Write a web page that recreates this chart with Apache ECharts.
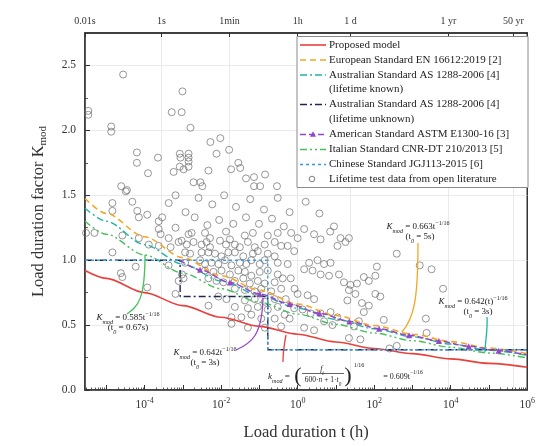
<!DOCTYPE html>
<html><head><meta charset="utf-8">
<script src="https://cdn.jsdelivr.net/npm/echarts@6/dist/echarts.min.js"></script>
<style>html,body{margin:0;padding:0;background:#fff}#c{width:538px;height:446px}</style>
</head><body><div id="c"></div>
<script>
const FONT = '"Liberation Serif","Times New Roman",serif';
// x values are log10 of load duration t (h)
const xMin = -5.5563, xMax = 6;
const curveLogT = [-5.5563, -5, -4, -3, -2, -1, 0, 1, 2, 3, 4, 5, 6];
const proposedK = [0.92, 0.86, 0.75, 0.65, 0.56, 0.49, 0.43, 0.37, 0.32, 0.28, 0.24, 0.205, 0.175];
const europeanK = [1.475, 1.36, 1.18, 1.02, 0.88, 0.77, 0.663, 0.574, 0.497, 0.43, 0.373, 0.323, 0.28];
const ausKnownK = [1.40, 1.30, 1.12, 0.97, 0.84, 0.73, 0.63, 0.545, 0.472, 0.41, 0.354, 0.307, 0.266];
const italianK = [1.30, 1.20, 1.04, 0.90, 0.78, 0.676, 0.585, 0.506, 0.439, 0.38, 0.329, 0.285, 0.247];
const astmLogT = [-3.08, -2.55, -1.77, -0.99, -0.21, 0.57, 1.35, 2.13, 2.91, 3.69, 4.47, 5.25, 6];
const astmK = [1.0, 0.926, 0.828, 0.74, 0.662, 0.591, 0.528, 0.472, 0.422, 0.377, 0.337, 0.302, 0.271];
const ausUnknownLogT = [-5.5563, -3.07, -3.07, -0.78, -0.78, 6];
const ausUnknownK = [1.0, 1.0, 0.72, 0.72, 0.31, 0.31];
const chineseLogT = [-5.5563, -0.78, -0.78, 6];
const chineseK = [1.0, 1.0, 0.31, 0.31];
// lifetime test data: [log10 t(h), K]
const testPoints = [
[-4.56,2.43],[-3.01,2.30],[-5.47,2.15],[-5.47,2.12],[-3.29,2.14],[-3.03,2.14],[-4.87,2.03],[-4.87,1.99],[-2.80,2.02],[-2.28,1.91],
[-2.02,1.94],[-1.79,1.85],[-2.12,1.82],[-4.20,1.83],[-4.20,1.75],[-3.65,1.79],[-3.08,1.82],[-2.85,1.82],[-3.06,1.79],[-2.85,1.79],
[-2.85,1.76],[-2.85,1.72],[-3.08,1.72],[-2.98,1.70],[-3.24,1.68],[-3.91,1.67],[-2.33,1.69],[-1.74,1.70],[-1.55,1.75],[-1.50,1.71],
[-1.35,1.63],[-1.14,1.64],[-0.85,1.66],[-2.72,1.60],[-2.54,1.60],[-2.49,1.57],[-4.61,1.57],[-4.46,1.54],[-1.14,1.57],[-0.98,1.57],[-0.54,1.57],
[-4.49,1.53],[-4.32,1.45],[-4.84,1.44],[-3.37,1.44],[-3.19,1.50],[-4.84,1.38],[-4.19,1.38],[-4.15,1.33],[-3.93,1.35],[-3.63,1.30],
[-3.54,1.33],[-3.19,1.25],[-3.63,1.24],[-4.58,1.19],[-4.15,1.17],[-5.53,1.21],[-3.58,1.20],[-3.37,1.17],[-3.89,1.12],[-3.63,1.11],
[-3.11,1.14],[-4.84,1.06],[-3.37,0.96],[-4.58,0.87],[-3.02,0.89],[-3.11,0.84],[-2.98,0.86],
[-5.31,1.21],[-4.62,0.90],[-3.93,0.79],[-4.23,0.95],[-1.73,0.51],[-2.33,0.65],
[-2.85,1.20],[-2.77,1.21],[-2.42,1.21],[-2.29,1.17],[-1.87,1.22],[-1.38,1.19],[-1.17,1.21],[-0.78,1.19],[-0.52,1.21],
[-3.03,1.15],[-2.90,1.12],[-2.72,1.14],[-2.51,1.12],[-2.38,1.14],[-2.29,1.10],[-2.03,1.15],[-1.87,1.12],[-1.77,1.16],[-1.64,1.12],
[-1.51,1.10],[-1.30,1.14],[-1.12,1.10],[-0.86,1.12],[-0.60,1.14],[-0.43,1.11],
[-2.94,1.06],[-2.81,1.05],[-2.51,1.06],[-2.33,1.06],[-2.16,1.05],[-1.99,1.03],[-1.81,1.06],[-1.64,1.06],[-1.42,1.03],[-1.17,1.05],
[-1.04,1.07],[-0.78,1.05],[-0.60,1.03],
[-2.94,0.98],[-2.55,1.00],[-2.42,0.97],[-2.25,0.98],[-2.07,0.97],[-1.90,1.00],[-1.73,0.96],[-1.51,0.98],[-1.34,0.97],[-1.21,1.00],
[-0.99,0.97],[-0.86,1.00],[-0.52,0.98],
[-2.42,0.92],[-2.20,0.91],[-1.99,0.92],[-1.77,0.89],[-1.55,0.92],[-1.38,0.91],[-1.21,0.88],[-0.99,0.91],[-0.78,0.92],[-0.52,0.89],
[-2.33,0.86],[-2.12,0.84],[-1.94,0.83],[-1.64,0.84],[-1.42,0.86],[-1.25,0.82],[-1.04,0.84],[-0.86,0.82],[-0.60,0.83],[-0.39,0.86],
[-1.64,0.78],[-1.38,0.77],[-1.12,0.76],[-0.95,0.78],[-0.69,0.76],[-0.43,0.78],
[-2.07,0.72],[-1.86,0.70],[-1.38,0.69],[-1.12,0.70],[-0.86,0.68],[-0.60,0.70],
[-1.64,0.64],[-1.30,0.63],[-1.04,0.64],[-0.78,0.62],[-0.52,0.64],
[-1.73,0.56],[-1.47,0.56],[-1.21,0.58],[-0.95,0.55],[-0.60,0.55],[-0.34,0.58],
[-3.19,0.74],[-3.32,1.10],[-1.30,0.48],[-0.86,0.48],[-0.43,0.49],
[0.95,1.26],[1.12,1.17],[1.25,1.14],[1.04,1.11],[1.34,1.17],[-0.17,1.21],[0.00,1.17],[0.17,1.24],[0.43,1.20],[0.60,1.16],
[-0.26,1.11],[-0.09,1.07],[0.30,0.98],[0.52,1.00],[0.69,0.97],[0.86,0.98],[0.17,0.93],[0.39,0.92],[0.60,0.89],[0.82,0.88],
[1.08,0.89],[1.21,0.83],[1.38,0.81],[1.55,0.82],[1.34,0.77],[1.51,0.74],[1.73,0.87],[1.86,0.84],[2.03,0.88],[2.07,0.95],
[1.68,0.67],[1.86,0.65],[2.25,0.54],[3.19,0.96],[3.50,0.93],[2.59,1.05],[3.80,0.78],[3.35,0.55],
[0.00,0.74],[0.26,0.73],[0.43,0.70],[-0.09,0.63],[0.13,0.62],[0.34,0.59],[0.60,0.59],[0.86,0.60],[1.04,0.56],[0.69,0.53],
[0.91,0.50],[0.17,0.48],[0.43,0.46],[1.47,0.49],[1.60,0.53],[1.30,0.69],[1.73,0.60],[2.03,0.74],[1.34,0.40],[1.64,0.39],
[2.16,0.72],[3.37,0.44],[2.40,0.32],[2.59,0.34],
[-0.26,0.97],[-0.18,0.86],[-0.08,0.78],[-0.31,0.70],[-0.21,0.55],
[-2.59,1.48],[-2.23,1.43],[-1.92,1.50],[-1.61,1.41],[-1.24,1.47],[-0.88,1.39],[-0.52,1.48],[-0.21,1.37],[0.21,1.45],[0.57,1.36],
[-2.69,1.33],[-2.36,1.27],[-2.05,1.31],[-1.68,1.28],[-1.35,1.33],[-1.01,1.28],[-0.67,1.32],[-0.36,1.26],[0.85,1.22],[-2.93,1.37]
];
const bottomLabelExp = [-4, -2, 0, 2, 4, 6];
const topTickHours = [2.778e-6, 2.778e-4, 0.016667, 1, 24, 8760, 438000];
const topTickLabels = ['0.01s', '1s', '1min', '1h', '1 d', '1 yr', '50 yr'];
const yLabels = [0, 0.5, 1.0, 1.5, 2.0, 2.5];
const yMinor = [0.25, 0.75, 1.25, 1.75, 2.25];

const C = {
  red: '#e8413c', orange: '#f5a623', teal: '#22b3a3', navy: '#1d2555',
  purple: '#9646c8', green: '#46c05a', blue: '#3d9be0', gray: '#6e6e6e', text: '#333'
};

const zip = (xs, ys) => xs.map((x, i) => [x, ys[i]]);
const majorTicks = [];
for (let d = -5; d <= 6; d++) majorTicks.push(d);
const minorTicks = [];
for (let d = -6; d <= 5; d++) for (let m = 2; m <= 9; m++) {
  const v = d + Math.log10(m);
  if (v > xMin && v < xMax) minorTicks.push(v);
}
const topTickPos = topTickHours.map(h => Math.max(xMin, Math.log10(h)));

function lineSeries(name, data, color, dash, width) {
  return {
    name, type: 'line', data, xAxisIndex: 0, yAxisIndex: 0, showSymbol: false, symbol: 'none',
    smooth: 0.3, smoothMonotone: 'x', clip: true, z: 3,
    lineStyle: { color, width: width || 1.5, type: dash },
    emphasis: { disabled: true }
  };
}

const series = [
  {
    name: 'Lifetime test data', type: 'scatter', data: testPoints, symbol: 'circle', symbolSize: 7,
    xAxisIndex: 0, yAxisIndex: 0, z: 2,
    itemStyle: { color: 'rgba(255,255,255,0)', borderColor: C.gray, borderWidth: 0.9 },
    emphasis: { disabled: true }
  },
  lineSeries('Proposed model', zip(curveLogT, proposedK), C.red, 'solid', 1.6),
  lineSeries('European', zip(curveLogT, europeanK), C.orange, [6, 4], 1.6),
  lineSeries('Aus known', zip(curveLogT, ausKnownK), C.teal, [7, 3, 2, 3], 1.4),
  Object.assign(lineSeries('Aus unknown', zip(ausUnknownLogT, ausUnknownK), C.navy, [7, 3, 2, 3], 1.4), { smooth: false }),
  lineSeries('Italian', zip(curveLogT, italianK), C.green, [7, 3, 2, 3, 2, 3], 1.4),
  Object.assign(lineSeries('Chinese', zip(chineseLogT, chineseK), C.blue, [3, 3], 1.4), { smooth: false }),
  {
    name: 'ASTM', type: 'line', xAxisIndex: 0, yAxisIndex: 0, z: 4, smooth: 0.3, smoothMonotone: 'x',
    data: zip(astmLogT, astmK).map((p, i, a) => (i === 0 || i === a.length - 1) ? { value: p, symbol: 'none' } : { value: p }),
    symbol: 'triangle', symbolSize: 6, showSymbol: true,
    itemStyle: { color: C.purple },
    lineStyle: { color: C.purple, width: 1.5, type: [6, 3] },
    emphasis: { disabled: true }
  }
];

// annotation helpers
const annRich = (fs) => ({
  n: { fontSize: fs, fontFamily: FONT, fill: '#222', lineHeight: 14, verticalAlign: 'middle' },
  i: { fontSize: fs, fontFamily: FONT, fontStyle: 'italic', fill: '#222', lineHeight: 14, verticalAlign: 'middle' },
  sub: { fontSize: fs * 0.68, fontFamily: FONT, fontStyle: 'italic', fill: '#222', lineHeight: 10, verticalAlign: 'bottom' },
  sup: { fontSize: fs * 0.68, fontFamily: FONT, fill: '#222', lineHeight: 9, verticalAlign: 'top' }
});
function annText(x, y, text, fs) {
  return { type: 'text', x, y, z: 20, silent: true,
    style: { text, align: 'center', verticalAlign: 'middle', rich: annRich(fs || 9), font: (fs || 9) + 'px ' + FONT, fill: '#222' } };
}
function curve(pts, color) {
  return { type: 'bezierCurve', z: 19, silent: true,
    shape: { x1: pts[0], y1: pts[1], cpx1: pts[2], cpy1: pts[3], cpx2: pts[4], cpy2: pts[5], x2: pts[6], y2: pts[7] },
    style: { stroke: color, lineWidth: 1.3, fill: null } };
}

const legendItems = [
  { y: 45, lines: ['Proposed model'], color: C.red, dash: null },
  { y: 60, lines: ['European Standard EN 16612:2019 [2]'], color: C.orange, dash: [6, 4] },
  { y: 75, lines: ['Australian Standard AS 1288-2006 [4]', '(lifetime known)'], color: C.teal, dash: [7, 3, 2, 3] },
  { y: 104.5, lines: ['Australian Standard AS 1288-2006 [4]', '(lifetime unknown)'], color: C.navy, dash: [7, 3, 2, 3] },
  { y: 134.5, lines: ['American Standard ASTM E1300-16 [3]'], color: C.purple, dash: [6, 3], tri: true },
  { y: 149.5, lines: ['Italian Standard CNR-DT 210/2013 [5]'], color: C.green, dash: [7, 3, 2, 3, 2, 3] },
  { y: 164.5, lines: ['Chinese Standard JGJ113-2015 [6]'], color: C.blue, dash: [3, 3] },
  { y: 179, lines: ['Lifetime test data from open literature'], circle: true }
];
const legendGraphics = [{
  type: 'rect', z: 15, silent: true, shape: { x: 297, y: 36.5, width: 231, height: 151 },
  style: { fill: '#fff', stroke: '#8a8a8a', lineWidth: 1 }
}];
legendItems.forEach(it => {
  if (it.circle) {
    legendGraphics.push({ type: 'circle', z: 16, silent: true, shape: { cx: 312, cy: it.y, r: 2.8 },
      style: { fill: null, stroke: C.gray, lineWidth: 0.9 } });
  } else {
    legendGraphics.push({ type: 'line', z: 16, silent: true, shape: { x1: 300, y1: it.y, x2: 326, y2: it.y },
      style: { stroke: it.color, lineWidth: 1.6, lineDash: it.dash || null } });
    if (it.tri) legendGraphics.push({ type: 'polygon', z: 17, silent: true,
      shape: { points: [[313, it.y - 3.2], [310, it.y + 2.2], [316, it.y + 2.2]] }, style: { fill: it.color } });
  }
  it.lines.forEach((t, k) => legendGraphics.push({ type: 'text', z: 16, silent: true, x: 329, y: it.y + k * 14.5,
    style: { text: t, font: '11px ' + FONT, fill: '#222', align: 'left', verticalAlign: 'middle' } }));
});

const annotations = [
  annText(128, 318, '{i|K}{sub|mod}{n| = 0.585t}{sup|−1/16}'),
  annText(128, 328, '{n|(t}{sub|0}{n| = 0.67s)}'),
  curve([145, 255, 145, 300, 138, 306, 127, 314], C.green),
  annText(205, 353, '{i|K}{sub|mod}{n| = 0.642t}{sup|−1/16}'),
  annText(205, 363, '{n|(t}{sub|0}{n| = 3s)}'),
  curve([263, 298, 262, 335, 252, 343, 236, 350], C.purple),
  annText(418, 227, '{i|K}{sub|mod}{n| = 0.663t}{sup|−1/16}'),
  annText(420, 237, '{n|(t}{sub|0}{n| = 5s)}'),
  curve([418, 243, 418, 300, 414, 318, 402, 332], C.orange),
  annText(473, 302, '{i|K}{sub|mod}{n| = 0.642(t)}{sup|−1/16}'),
  annText(478, 312, '{n|(t}{sub|0}{n| = 3s)}'),
  curve([487, 317, 488, 330, 485, 342, 485, 352], C.teal),
  curve([286, 335, 284, 345, 283, 352, 283, 362], C.red),
  annText(279, 377, '{i|k}{sub|mod}{n| =}', 9),
  { type: 'text', z: 20, silent: true, x: 298, y: 376, style: { text: '(', font: '22px ' + FONT, fill: '#222', align: 'center', verticalAlign: 'middle' } },
  annText(322, 369, '{i|f}{sub|t}', 8),
  { type: 'line', z: 20, silent: true, shape: { x1: 302, y1: 373.5, x2: 344, y2: 373.5 }, style: { stroke: '#222', lineWidth: 0.7 } },
  annText(323, 380, '{n|600·}{i|n}{n| + 1·}{i|t}{sub|0}', 7.5),
  { type: 'text', z: 20, silent: true, x: 348, y: 376, style: { text: ')', font: '22px ' + FONT, fill: '#222', align: 'center', verticalAlign: 'middle' } },
  { type: 'text', z: 20, silent: true, x: 359, y: 365, style: { text: '1/16', font: '6px ' + FONT, fill: '#222', align: 'center', verticalAlign: 'middle' } },
  annText(403, 377, '{n|= 0.609t}{sup|−1/16}', 8)
];

const chart = echarts.init(document.getElementById('c'), null, { renderer: 'canvas' });
chart.setOption({
  animation: false,
  backgroundColor: '#fff',
  grid: { left: 85, right: 7, top: 33, bottom: 54, show: true, borderColor: '#333', borderWidth: 1.5, backgroundColor: 'transparent' },
  xAxis: [
    {
      type: 'value', position: 'bottom', min: xMin, max: xMax,
      axisLine: { show: true, onZero: false, lineStyle: { color: '#333', width: 1.5 } },
      axisTick: { show: true, inside: true, length: 5, customValues: majorTicks, lineStyle: { color: '#333', width: 1 } },
      axisLabel: {
        customValues: bottomLabelExp, margin: 7, color: C.text,
        formatter: v => '{b|10}{s|' + Math.round(v) + '}',
        rich: {
          b: { fontSize: 11.5, fontFamily: FONT, color: C.text, lineHeight: 16, verticalAlign: 'middle' },
          s: { fontSize: 8, fontFamily: FONT, color: C.text, lineHeight: 8, verticalAlign: 'top' }
        }
      },
      splitLine: { show: false },
      name: 'Load duration t (h)', nameLocation: 'middle', nameGap: 34,
      nameTextStyle: { fontSize: 16.5, fontFamily: FONT, color: C.text }
    },
    {
      type: 'value', position: 'top', min: xMin, max: xMax,
      axisLine: { show: true, onZero: false, lineStyle: { color: '#333', width: 1.5 } },
      axisTick: { show: true, inside: true, length: 4, customValues: topTickPos, lineStyle: { color: '#333', width: 1 } },
      axisLabel: {
        customValues: topTickPos, margin: 7, fontSize: 10, fontFamily: FONT, color: C.text, showMinLabel: true,
        formatter: v => { const i = topTickPos.findIndex(p => Math.abs(p - v) < 1e-6); return i >= 0 ? topTickLabels[i] : ''; }
      },
      splitLine: { show: true, lineStyle: { color: '#e4e4e4', width: 0.8 } }
    },
    {
      type: 'value', position: 'bottom', min: xMin, max: xMax,
      axisLine: { show: false, onZero: false },
      axisTick: { show: true, inside: true, length: 2.5, customValues: minorTicks, lineStyle: { color: '#333', width: 0.8 } },
      axisLabel: { show: false }, splitLine: { show: false }
    }
  ],
  yAxis: [
    {
      type: 'value', position: 'left', min: 0, max: 2.75, interval: 0.5,
      axisLine: { show: true, onZero: false, lineStyle: { color: '#333', width: 1.5 } },
      axisTick: { show: true, inside: true, length: 5, customValues: yLabels, lineStyle: { color: '#333', width: 1 } },
      axisLabel: { customValues: yLabels, formatter: v => v.toFixed(1), fontSize: 11.5, fontFamily: FONT, color: C.text, margin: 9 },
      splitLine: { show: true, lineStyle: { color: '#e4e4e4', width: 0.8 } },
      name: '{a|Load duration factor K}{s|mod}', nameLocation: 'middle', nameGap: 36,
      nameTextStyle: {
        rich: {
          a: { fontSize: 16.5, fontFamily: FONT, color: C.text, lineHeight: 20, verticalAlign: 'middle' },
          s: { fontSize: 11, fontFamily: FONT, color: C.text, lineHeight: 9, verticalAlign: 'bottom' }
        }
      }
    },
    {
      type: 'value', position: 'left', min: 0, max: 2.75,
      axisLine: { show: false, onZero: false },
      axisTick: { show: true, inside: true, length: 3, customValues: yMinor, lineStyle: { color: '#333', width: 0.8 } },
      axisLabel: { show: false }, splitLine: { show: false }
    }
  ],
  series,
  graphic: legendGraphics.concat(annotations)
});
</script></body></html>
